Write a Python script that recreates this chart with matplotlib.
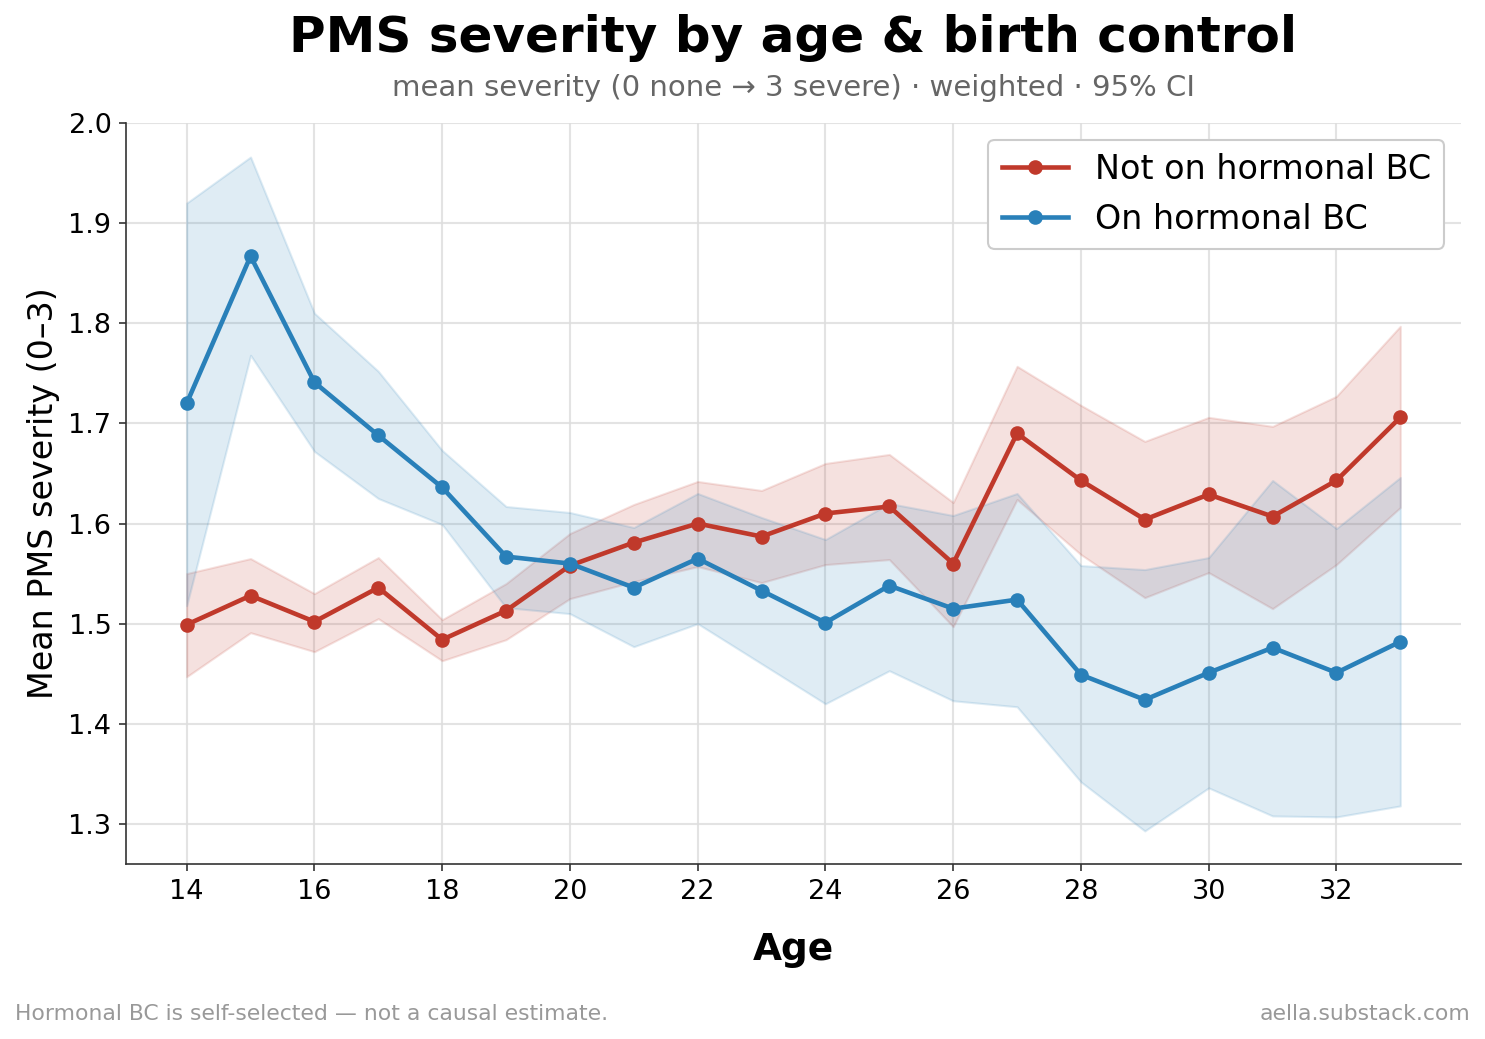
import matplotlib
matplotlib.use("Agg")
import matplotlib.pyplot as plt
import numpy as np

ages = list(range(14, 34))

not_bc_mean = [1.499, 1.528, 1.502, 1.536, 1.484, 1.513, 1.558, 1.581, 1.600, 1.587,
               1.610, 1.617, 1.560, 1.690, 1.643, 1.604, 1.629, 1.607, 1.643, 1.706]
not_bc_lo = [1.447, 1.491, 1.472, 1.505, 1.463, 1.484, 1.525, 1.542, 1.557, 1.541,
             1.559, 1.564, 1.497, 1.624, 1.569, 1.526, 1.551, 1.515, 1.559, 1.616]
not_bc_hi = [1.550, 1.565, 1.530, 1.566, 1.504, 1.540, 1.590, 1.619, 1.642, 1.633,
             1.660, 1.669, 1.621, 1.757, 1.718, 1.682, 1.706, 1.697, 1.727, 1.797]

bc_mean = [1.720, 1.867, 1.741, 1.688, 1.636, 1.567, 1.560, 1.536, 1.565, 1.533,
           1.501, 1.538, 1.515, 1.524, 1.449, 1.424, 1.451, 1.476, 1.451, 1.482]
bc_lo = [1.518, 1.768, 1.672, 1.625, 1.599, 1.516, 1.510, 1.477, 1.500, 1.460,
         1.420, 1.453, 1.423, 1.417, 1.342, 1.293, 1.336, 1.308, 1.307, 1.318]
bc_hi = [1.920, 1.966, 1.810, 1.752, 1.673, 1.617, 1.611, 1.596, 1.630, 1.606,
         1.584, 1.620, 1.608, 1.630, 1.558, 1.554, 1.566, 1.643, 1.595, 1.646]

RED = "#c0392b"
BLUE = "#2980b9"

fig = plt.figure(figsize=(9.9, 6.927), dpi=150)
ax = fig.add_axes([126/1485, 1-864/1039, (1461-126)/1485, (864-123)/1039])

ax.fill_between(ages, not_bc_lo, not_bc_hi, color=RED, alpha=0.15, linewidth=1)
ax.plot(ages, not_bc_mean, color=RED, marker="o", lw=2.2, ms=6, label="Not on hormonal BC")
ax.fill_between(ages, bc_lo, bc_hi, color=BLUE, alpha=0.15, linewidth=1)
ax.plot(ages, bc_mean, color=BLUE, marker="o", lw=2.2, ms=6, label="On hormonal BC")

ax.set_ylim(1.26, 2.0)
ax.set_xticks(range(14, 34, 2))
ax.set_yticks(np.arange(1.3, 2.01, 0.1))
ax.set_yticklabels([f"{v:.1f}" for v in np.arange(1.3, 2.01, 0.1)])
ax.tick_params(labelsize=13, color="#333333")
ax.grid(True, color="#dddddd", alpha=0.8, lw=1)
ax.set_axisbelow(True)
for s in ["top", "right"]:
    ax.spines[s].set_visible(False)
for s in ["left", "bottom"]:
    ax.spines[s].set_color("#333333")

ax.set_xlabel("Age", fontsize=18, fontweight="bold", labelpad=13)
ax.set_ylabel("Mean PMS severity (0–3)", fontsize=16, labelpad=4)

ax.legend(loc="upper right", fontsize=16, frameon=True, framealpha=1, edgecolor="#cccccc")

fig.text(793.5/1485, 1-38/1039, "PMS severity by age & birth control", ha="center", va="center",
         fontsize=24, fontweight="bold")
fig.text(793.5/1485, 1-88/1039, "mean severity (0 none → 3 severe) · weighted · 95% CI", ha="center",
         va="center", fontsize=14, color="#666666")
fig.text(15/1485, 1-1014/1039, "Hormonal BC is self-selected — not a causal estimate.", ha="left",
         va="center", fontsize=10.5, color="#999999")
fig.text(1470/1485, 1-1014/1039, "aella.substack.com", ha="right", va="center", fontsize=10.5,
         color="#999999")

fig.savefig("out.png", dpi=150)
